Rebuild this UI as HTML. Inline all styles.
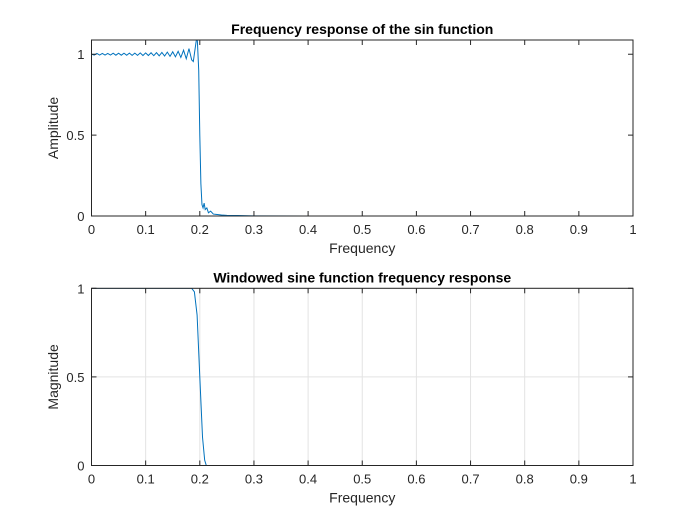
<!DOCTYPE html>
<html><head><meta charset="utf-8"><style>
body{margin:0;background:#fff;}
svg{display:block;font-family:"Liberation Sans",sans-serif;}
</style></head><body>
<svg id="c" width="700" height="525"></svg>
<script>
const topFreq=[0,0.005,0.01,0.015,0.02,0.025,0.03,0.035,0.04,0.045,0.05,0.055,0.06,0.065,0.07,0.075,0.08,0.085,0.09,0.095,0.1,0.105,0.11,0.115,0.12,0.125,0.13,0.135,0.14,0.145,0.15,0.155,0.16,0.165,0.17,0.175,0.18,0.185,0.188,0.192,0.195,0.198,0.2,0.202,0.204,0.206,0.208,0.21,0.213,0.216,0.22,0.225,0.23,0.24,0.25,0.27,0.3,0.4,1];
const topAmp=[1.0,0.995,1.005,0.995,1.005,0.995,1.005,0.995,1.006,0.994,1.006,0.994,1.006,0.994,1.007,0.993,1.007,0.993,1.008,0.992,1.008,0.992,1.009,0.991,1.01,0.99,1.011,0.989,1.013,0.987,1.015,0.984,1.018,0.98,1.025,0.972,1.035,0.965,0.955,1.05,1.12,0.9,0.5,0.2,0.07,0.05,0.08,0.04,0.05,0.02,0.03,0.012,0.01,0.006,0.004,0.003,0.001,0,0];
const botFreq=[0,0.185,0.19,0.195,0.2,0.205,0.209,0.212,1];
const botMag=[1,1,0.98,0.85,0.5,0.16,0.03,0,0];
const xTicks=[0,0.1,0.2,0.3,0.4,0.5,0.6,0.7,0.8,0.9,1];
const yTicks=[0,0.5,1];
const NS="http://www.w3.org/2000/svg";
const svg=document.getElementById('c');
function mk(t,a,p){const e=document.createElementNS(NS,t);for(const k in a)e.setAttribute(k,a[k]);(p||svg).appendChild(e);return e;}
function axes(opt){
 const L=91.5,R=633,T=opt.T,B=opt.B,ymax=opt.ymax;
 const sx=v=>L+(R-L)*v, sy=v=>B-(B-T)*v/ymax;
 const g=mk('g',{});
 
 
 mk('rect',{x:L,y:T,width:R-L,height:B-T,fill:'#fff'},g);
 if(opt.grid){
  xTicks.forEach(v=>{const l=mk('line',{x1:sx(v),x2:sx(v),y1:T,y2:B,stroke:'#e3e3e3','stroke-width':1},g);});
  yTicks.forEach(v=>{const l=mk('line',{x1:L,x2:R,y1:sy(v),y2:sy(v),stroke:'#e3e3e3','stroke-width':1},g);});
 }
 const cid='clip'+opt.name;
 const cp=mk('clipPath',{id:cid},g);mk('rect',{x:L,y:T,width:R-L,height:B-T},cp);
 const pts=opt.xs.map((x,i)=>sx(x).toFixed(2)+','+sy(opt.ys[i]).toFixed(2)).join(' ');
 const pl=mk('polyline',{points:pts,fill:'none',stroke:'#0072bd','stroke-width':1,'clip-path':'url(#'+cid+')'},g);
 
 
 mk('rect',{x:L,y:T,width:R-L,height:B-T,fill:'none',stroke:'#262626','stroke-width':1},g);
 xTicks.forEach(v=>{
  mk('line',{x1:sx(v),x2:sx(v),y1:B,y2:B-5,stroke:'#262626'},g);
  mk('line',{x1:sx(v),x2:sx(v),y1:T,y2:T+5,stroke:'#262626'},g);
  const t=mk('text',{x:sx(v),y:B+18,'font-size':13,'text-anchor':'middle',fill:'#262626'},g);t.textContent=String(v);
  
 });
 yTicks.forEach(v=>{
  mk('line',{x1:L,x2:L+5,y1:sy(v),y2:sy(v),stroke:'#262626'},g);
  mk('line',{x1:R,x2:R-5,y1:sy(v),y2:sy(v),stroke:'#262626'},g);
  const t=mk('text',{x:L-7,y:sy(v)+5,'font-size':13,'text-anchor':'end',fill:'#262626'},g);t.textContent=String(v);
  
 });
 const xt=mk('text',{x:(L+R)/2,y:B+37,'font-size':14,'text-anchor':'middle',fill:'#262626'},g);xt.textContent='Frequency';
 
 const yt=mk('text',{x:0,y:0,'font-size':14,'text-anchor':'middle',fill:'#262626',transform:'translate(58,'+((T+B)/2)+') rotate(-90)'},g);yt.textContent=opt.ylabel;
 
 const tt=mk('text',{x:(L+R)/2,y:T-6,'font-size':14,'font-weight':'bold','text-anchor':'middle',fill:'#000'},g);tt.textContent=opt.title;
 
}
axes({name:'top-axes',T:40,B:216,ymax:1.088,grid:false,xs:topFreq,ys:topAmp,ylabel:'Amplitude',title:'Frequency response of the sin function'});
axes({name:'bottom-axes',T:288.3,B:465.5,ymax:1,grid:true,xs:botFreq,ys:botMag,ylabel:'Magnitude',title:'Windowed sine function frequency response'});
</script>
</body></html>
